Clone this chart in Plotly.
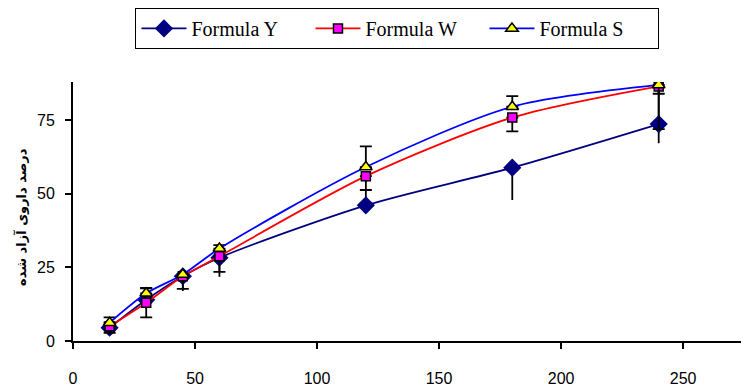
import plotly.graph_objects as go

time_min = [15, 30, 45, 60, 120, 180, 240]

formula_y = [4.5, 14.0, 22.0, 28.3, 46.1, 58.9, 73.7]
formula_w = [5.0, 13.0, 22.0, 28.8, 56.0, 75.9, 86.5]
formula_s = [6.2, 16.2, 22.6, 31.4, 59.1, 79.6, 87.0]

err_y_plus = [0, 0, 0, 0, 5.0, 0, 16.0]
err_y_minus = [0, 0, 5.0, 6.5, 0, 11.0, 6.5]
err_w_plus = [0, 5.0, 0, 0, 0, 0, 0]
err_w_minus = [2.2, 5.0, 4.3, 5.3, 4.7, 4.7, 14.5]
err_s_plus = [1.8, 1.7, 0, 1.2, 7.0, 3.6, 0]
err_s_minus = [0, 0, 0, 0, 0, 0, 3.0]

x_ticks = [0, 50, 100, 150, 200, 250]
y_ticks = [0, 25, 50, 75]
y_title = "درصد داروی آزاد شده"

fig = go.Figure()

fig.add_trace(go.Scatter(
    x=time_min, y=formula_y, name="Formula Y", mode="lines+markers",
    line=dict(color="#000080", width=1.8, shape="spline", smoothing=0.8),
    marker=dict(symbol="diamond", size=14, color="#000080",
                line=dict(color="#000080", width=0)),
    error_y=dict(type="data", symmetric=False, array=err_y_plus,
                 arrayminus=err_y_minus, color="black", thickness=1.8, width=0),
))
fig.add_trace(go.Scatter(
    x=time_min, y=formula_w, name="Formula W", mode="lines+markers",
    line=dict(color="#FF0000", width=1.8, shape="spline", smoothing=0.8),
    marker=dict(symbol="square", size=9, color="#FF00FF",
                line=dict(color="black", width=1.5)),
    error_y=dict(type="data", symmetric=False, array=err_w_plus,
                 arrayminus=err_w_minus, color="black", thickness=1.8, width=6),
))
fig.add_trace(go.Scatter(
    x=time_min, y=formula_s, name="Formula S", mode="lines+markers",
    line=dict(color="#0000FF", width=1.8, shape="spline", smoothing=0.8),
    marker=dict(symbol="triangle-up", size=11, color="#FFFF00",
                line=dict(color="black", width=1.5)),
    error_y=dict(type="data", symmetric=False, array=err_s_plus,
                 arrayminus=err_s_minus, color="black", thickness=1.8, width=6),
))

# page body has an 8px margin: figure drawn at (8, 8)
fig.update_layout(
    width=741, height=379,
    margin=dict(l=65, r=0, t=74, b=46, autoexpand=False),
    paper_bgcolor="white", plot_bgcolor="white",
    font=dict(family="Liberation Sans, Arial", size=16, color="black"),
    showlegend=True,
    legend=dict(
        orientation="h", x=0.48, xanchor="center", y=1.286, yanchor="top",
        bgcolor="white", bordercolor="black", borderwidth=1,
        font=dict(family="Liberation Serif, Times New Roman", size=20, color="black"),
        itemwidth=45, entrywidth=114, entrywidthmode="pixels",
    ),
    xaxis=dict(
        range=[0, 277], tickvals=x_ticks, ticktext=[str(v) for v in x_ticks],
        showgrid=False, zeroline=False, showline=True, linecolor="black", linewidth=2,
        ticks="outside", ticklen=6, tickwidth=2, tickcolor="black",
        ticklabelstandoff=16,
    ),
    yaxis=dict(
        range=[0, 88], tickvals=y_ticks, ticktext=[str(v) for v in y_ticks],
        showgrid=False, zeroline=False, showline=True, linecolor="black", linewidth=2,
        ticks="outside", ticklen=6, tickwidth=2, tickcolor="black",
        ticklabelstandoff=7,
    ),
    annotations=[dict(
        text="<b>" + y_title + "</b>", textangle=-90,
        xref="paper", yref="paper", x=-0.078, y=0.48, xanchor="center", yanchor="middle",
        showarrow=False, font=dict(family="DejaVu Sans", size=13, color="black"),
    )],
)

fig.write_html("out.html")
